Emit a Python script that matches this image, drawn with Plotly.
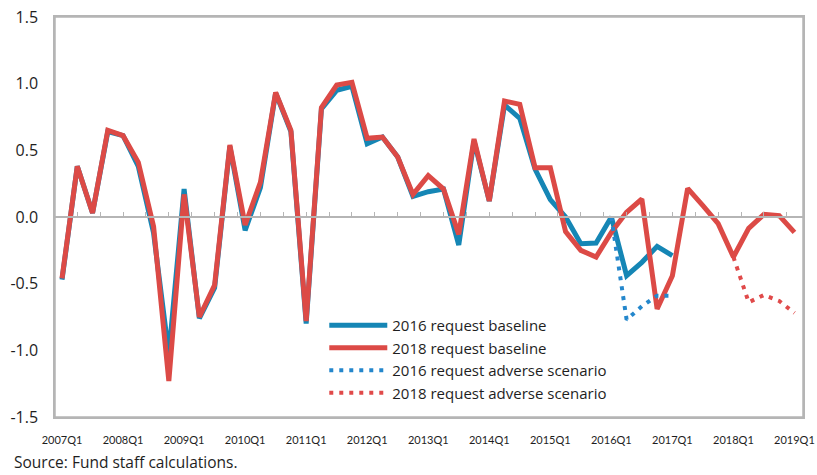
import plotly.graph_objects as go

quarters = list(range(49))
tick_positions = [0, 4, 8, 12, 16, 20, 24, 28, 32, 36, 40, 44, 48]
tick_labels = ["2007Q1", "2008Q1", "2009Q1", "2010Q1", "2011Q1", "2012Q1", "2013Q1",
               "2014Q1", "2015Q1", "2016Q1", "2017Q1", "2018Q1", "2019Q1"]
y_tick_vals = [-1.5, -1.0, -0.5, 0.0, 0.5, 1.0, 1.5]
y_tick_text = ["-1.5", "-1.0", "-0.5", "0.0", "0.5", "1.0", "1.5"]

baseline_2016 = [-0.47, 0.38, 0.03, 0.64, 0.61, 0.38, -0.12, -1.03, 0.21, -0.76,
                 -0.53, 0.53, -0.10, 0.22, 0.93, 0.64, -0.80, 0.81, 0.95, 0.98,
                 0.55, 0.60, 0.45, 0.155, 0.19, 0.21, -0.21, 0.57, 0.12, 0.84,
                 0.74, 0.36, 0.13, 0.0, -0.20, -0.195, 0.0, -0.44, -0.34, -0.22,
                 -0.29] + [None] * 8
baseline_2018 = [-0.46, 0.38, 0.03, 0.65, 0.61, 0.41, -0.07, -1.23, 0.17, -0.75,
                 -0.51, 0.54, -0.06, 0.26, 0.935, 0.65, -0.78, 0.82, 0.99, 1.01,
                 0.59, 0.60, 0.45, 0.17, 0.31, 0.21, -0.13, 0.585, 0.12, 0.87,
                 0.845, 0.37, 0.37, -0.11, -0.25, -0.30, -0.115, 0.035, 0.135, -0.69,
                 -0.44, 0.215, 0.085, -0.05, -0.30, -0.085, 0.02, 0.01, -0.115]
adverse_2016 = [None] * 36 + [0.0, -0.77, -0.67, -0.59, -0.59] + [None] * 8
adverse_2018 = [None] * 44 + [-0.30, -0.64, -0.585, -0.63, -0.72]

# zero-line minor tick positions (every 1.5 quarters)
zero_ticks_start = 1
zero_ticks_step = 1.5

BLUE = "#1586b5"
RED = "#dc4a46"
BLUE_DOT = "#2487cc"
RED_DOT = "#e04a4a"
GRAY = "#b5b5b5"
FONT = "Open Sans"
TXT = "#1e1e1e"

fig = go.Figure()
fig.add_trace(go.Scatter(x=quarters, y=baseline_2016, mode="lines", name="2016 request baseline",
                         line=dict(color=BLUE, width=5)))
fig.add_trace(go.Scatter(x=quarters, y=baseline_2018, mode="lines", name="2018 request baseline",
                         line=dict(color=RED, width=5)))
fig.add_trace(go.Scatter(x=quarters, y=adverse_2016, mode="lines", name="2016 request adverse scenario",
                         line=dict(color=BLUE_DOT, width=4, dash="4px,6px")))
fig.add_trace(go.Scatter(x=quarters, y=adverse_2018, mode="lines", name="2018 request adverse scenario",
                         line=dict(color=RED_DOT, width=4, dash="4px,6px")))
# invisible trace to activate the zero-line tick axis
fig.add_trace(go.Scatter(x=[0], y=[0], xaxis="x2", mode="markers", marker=dict(opacity=0),
                         showlegend=False, hoverinfo="skip"))

xr = [-0.46, 48.56]
fig.update_layout(
    template="none",
    width=817, height=475,
    margin=dict(l=55, r=14, t=17, b=58, autoexpand=False),
    paper_bgcolor="white", plot_bgcolor="white",
    font=dict(family=FONT, color=TXT),
    showlegend=True,
    legend=dict(x=0.36, y=0.27, xanchor="left", yanchor="top", bgcolor="rgba(0,0,0,0)",
                font=dict(size=15, family=FONT, color=TXT), itemwidth=58, tracegroupgap=0,
                borderwidth=0),
    xaxis=dict(range=xr, tickvals=tick_positions, ticktext=tick_labels, showgrid=False,
               zeroline=False, showline=True, mirror=True, linecolor=GRAY, linewidth=1.5,
               ticks="", ticklabelstandoff=12, tickfont=dict(size=11, family="Lato", color=TXT),
               tickangle=0, automargin=False, ticklabeloverflow="allow"),
    xaxis2=dict(range=xr, overlaying="x", anchor="free", position=0.5, side="bottom",
                tick0=zero_ticks_start, dtick=zero_ticks_step, ticks="inside", ticklen=4,
                tickcolor=GRAY, tickwidth=1, showline=True, linecolor=GRAY, linewidth=1.5,
                showticklabels=False, showgrid=False, zeroline=False, automargin=False),
    yaxis=dict(range=[-1.5, 1.5], tickvals=y_tick_vals, ticktext=y_tick_text, showgrid=False,
               zeroline=False, showline=True, mirror=True, linecolor=GRAY, linewidth=1.5,
               ticks="", ticklabelstandoff=12, tickfont=dict(size=16, family=FONT, color=TXT),
               automargin=False, ticklabeloverflow="allow"),
    shapes=[dict(type="rect", xref="paper", yref="paper", x0=0, x1=1, y0=0, y1=1,
                 line=dict(color=GRAY, width=1.5), fillcolor="rgba(0,0,0,0)", layer="above")],
    annotations=[dict(text="Source: Fund staff calculations.", xref="paper", yref="paper",
                      x=-0.056, y=-0.113, xanchor="left", yanchor="middle", showarrow=False,
                      borderpad=0, font=dict(size=15.5, family=FONT, color=TXT))],
)

fig.write_html("out.html", config={"displayModeBar": False},
               post_script="document.body.style.margin='0';")
